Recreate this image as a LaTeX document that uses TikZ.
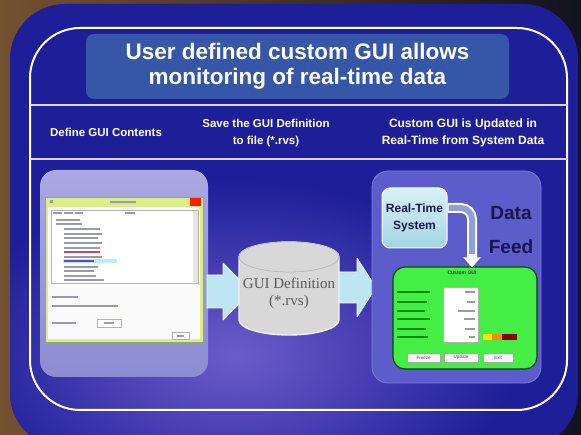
\documentclass[tikz,border=0pt]{standalone}
\usepackage{fontspec}
\setmainfont{Liberation Sans}
\newfontfamily\dbfont{Liberation Serif}
\usetikzlibrary{arrows.meta}

\definecolor{deepblue}{HTML}{1E1E98}
\definecolor{glowpurple}{HTML}{6C5CCA}
\definecolor{titlefill}{HTML}{3656A8}
\definecolor{lavtop}{HTML}{A8A8E2}
\definecolor{lavbot}{HTML}{8C8CD2}
\definecolor{lavright}{HTML}{5C5CCA}
\definecolor{arrowcyan}{HTML}{BEE6F2}
\definecolor{cylgray}{HTML}{D8D8D8}
\definecolor{guigreen}{HTML}{44EE44}
\definecolor{navytext}{HTML}{161650}
\definecolor{winframe}{HTML}{DCEE88}
\definecolor{woodbrown}{HTML}{74512F}
\definecolor{nightdark}{HTML}{121220}
\definecolor{blurtext}{HTML}{9A9AA8}
\definecolor{rtstop}{HTML}{D8F2F6}
\definecolor{rtsbot}{HTML}{A4D4E4}

\tikzset{
  heading/.style={text=white, font=\bfseries\fontsize{11.5}{17}\selectfont, align=center, inner sep=0},
  panel/.style={rounded corners=16, inner sep=0},
  blockarrow/.style={fill=arrowcyan, draw=white!80!arrowcyan, line width=0.8, line join=round},
  guibtn/.style={draw=gray!70, fill=white!92!gray, inner sep=0,
    font=\fontsize{4.5}{5}\selectfont, text=black!70},
}

\begin{document}
\begin{tikzpicture}[x=1pt,y=-1pt]
\useasboundingbox (0,0) rectangle (581,435);

% backdrop behind the slide
\shade[left color=woodbrown, middle color=woodbrown!45!nightdark, right color=nightdark]
  (0,0) rectangle (581,435);

% slide body with a soft purple glow
\begin{scope}
  \clip[rounded corners=55] (10,4) rectangle (578,448);
  \fill[deepblue] (0,0) rectangle (581,448);
  \shade[inner color=glowpurple, outer color=deepblue] (235,355) ellipse [x radius=280, y radius=175];
\end{scope}

% white frame and row separators
\draw[white, line width=2] (30,28) [rounded corners=50] rectangle (567,410);
\draw[white!85!blue, line width=1.6] (30.5,105) -- (566.5,105);
\draw[white!85!blue, line width=1.6] (30.5,159) -- (566.5,159);

% title
\node[fill=titlefill, rounded corners=8, minimum width=423, minimum height=65, inner sep=0,
  text=white, align=center, font=\bfseries\fontsize{22.5}{25}\selectfont]
  (title) at (297.5,66.5) {User defined custom GUI allows\\monitoring of real-time data};

% column headings
\node[heading] (hdef)  at (106,132) {Define GUI Contents};
\node[heading] (hsave) at (266,133) {Save the GUI Definition\\to file (*.rvs)};
\node[heading, font=\bfseries\fontsize{12}{17}\selectfont] (hupd) at (463,133) {Custom GUI is Updated in\\Real-Time from System Data};

% ---- left column: GUI definition window
\node[panel, top color=lavtop, bottom color=lavbot, minimum width=168, minimum height=207]
  (src) at (124,273.5) {};
\node[fill=winframe, draw=winframe!70!black, line width=0.4, minimum width=158, minimum height=145, inner sep=0]
  (win) at (124,269.5) {};
\fill[white!96!gray] (48,207) rectangle (200,339);
\fill[red!75!orange] (190,198) rectangle (201,206);
\fill[blurtext] (110,201) rectangle (136,203.5);
\fill[blurtext] (50,200.5) rectangle (53,203);
% tree view
\draw[gray!60, fill=white, line width=0.4] (51,210) rectangle (198,283);
\fill[gray!20] (193,211) rectangle (197.5,282.5);
\foreach \x/\w in {53/9,64/9,75/8,125/10} \fill[blurtext] (\x,212.5) rectangle ++(\w,2);
\foreach \y/\x/\w in {219/56/24,223.5/56/26,228/64/36,233/64/38,237.5/64/34,242/64/38,
  247/64/36,256/64/38,266/64/34,270.5/64/30,275/64/32,279.5/64/40}
  \fill[blurtext] (\x,\y) rectangle ++(\w,2);
\fill[red!50!blurtext] (64,251) rectangle ++(36,2);
\fill[cyan!25] (63,259.5) rectangle (117,263.5);
\fill[blue!50!blurtext] (64,260.5) rectangle ++(30,2);
% fields below the tree
\fill[blurtext] (52,296) rectangle ++(26,2);
\fill[blurtext] (52,305) rectangle ++(66,2);
\fill[blurtext] (52,322) rectangle ++(24,2);
\draw[gray!60, fill=white, line width=0.4] (97,319) rectangle (121,327);
\fill[blurtext] (104,322) rectangle ++(10,2);
\draw[gray!60, fill=white, line width=0.4] (172,332.5) rectangle (189,339);
\fill[blurtext] (177,335) rectangle ++(7,2);

% ---- middle column: block arrows and the definition file
\filldraw[blockarrow] (207,275) -- (223,275) -- (223,263) -- (251,291.5)
  -- (223,320) -- (223,308) -- (207,308) -- cycle;
\filldraw[blockarrow] (336,272) -- (357,272) -- (357,258) -- (376,287.5)
  -- (357,317) -- (357,303) -- (336,303) -- cycle;

\filldraw[fill=cylgray, draw=white!90!gray, line width=1.4]
  (239,257) -- (239,320) arc[start angle=180, end angle=0, x radius=50, y radius=15]
  -- (339,257) arc[start angle=0, end angle=-180, x radius=50, y radius=15] -- cycle;
\draw[gray!55, line width=0.8] (289,257) ellipse [x radius=50, y radius=15];
\node[font=\dbfont\fontsize{15}{17}\selectfont, text=black!65, align=center, inner sep=0]
  (db) at (289,293) {GUI Definition\\(*.rvs)};

% ---- right column: real-time system feeding the custom GUI
\node[panel, fill=lavright, draw=lavright!80!white, line width=0.8,
  minimum width=169, minimum height=212] (dst) at (456.5,277) {};

\node[rounded corners=8, top color=rtstop, bottom color=rtsbot,
  draw=white, line width=1, minimum width=65, minimum height=60, inner sep=0,
  text=navytext, align=center, font=\bfseries\fontsize{12}{17}\selectfont]
  (rts) at (414.5,218) {Real-Time\\System};
\node[text=navytext, align=center, font=\bfseries\fontsize{19}{34}\selectfont, inner sep=0]
  (feedlbl) at (511,230) {Data\\Feed};

\node[rounded corners=12, fill=guigreen, draw=black!70!green, line width=1.2,
  minimum width=144, minimum height=102, inner sep=0] (gui) at (465,318) {};

\coordinate (bend) at (472,208);
\draw[white, line width=10, rounded corners=11, -{Triangle[length=10pt, width=17pt]}]
  (rts.east |- bend) -- (bend) -- ([yshift=-1]gui.north -| bend);
\draw[white!80!cyan!70!blue, line width=6, rounded corners=11]
  ([xshift=1]rts.east |- bend) -- (bend) -- ++(0,46);

% custom GUI contents
\node[font=\bfseries\fontsize{5}{6}\selectfont, text=black!80, inner sep=0] (guititle) at (462,273) {Custom GUI};
\draw[gray!60, fill=white, line width=0.4] (443,287) rectangle (478,342);
\foreach \y/\w in {291.5/33,301/30,310/28,318.5/33,328/29,336.5/31}
  \fill[black!45!green] (397,\y) rectangle ++(\w,1.6);
\foreach \y/\w in {291.5/10,301/8,310/17,318.5/11,328/10,336.5/6}
  \fill[blurtext] (475-\w,\y) rectangle ++(\w,1.6);
\fill[yellow!85!orange] (483,334.5) rectangle (492,340);
\fill[orange!90!yellow] (492,334.5) rectangle (501,340);
\fill[red!55!black] (502,334.5) rectangle (517,340);
\node[guibtn, minimum width=33, minimum height=9] (bfreeze) at (423.5,357.5) {Freeze};
\node[guibtn, minimum width=34, minimum height=9] (bupdate) at (461,357.5) {Update};
\node[guibtn, minimum width=30, minimum height=9] (bexit) at (498,357.5) {Exit};
\end{tikzpicture}
\end{document}
